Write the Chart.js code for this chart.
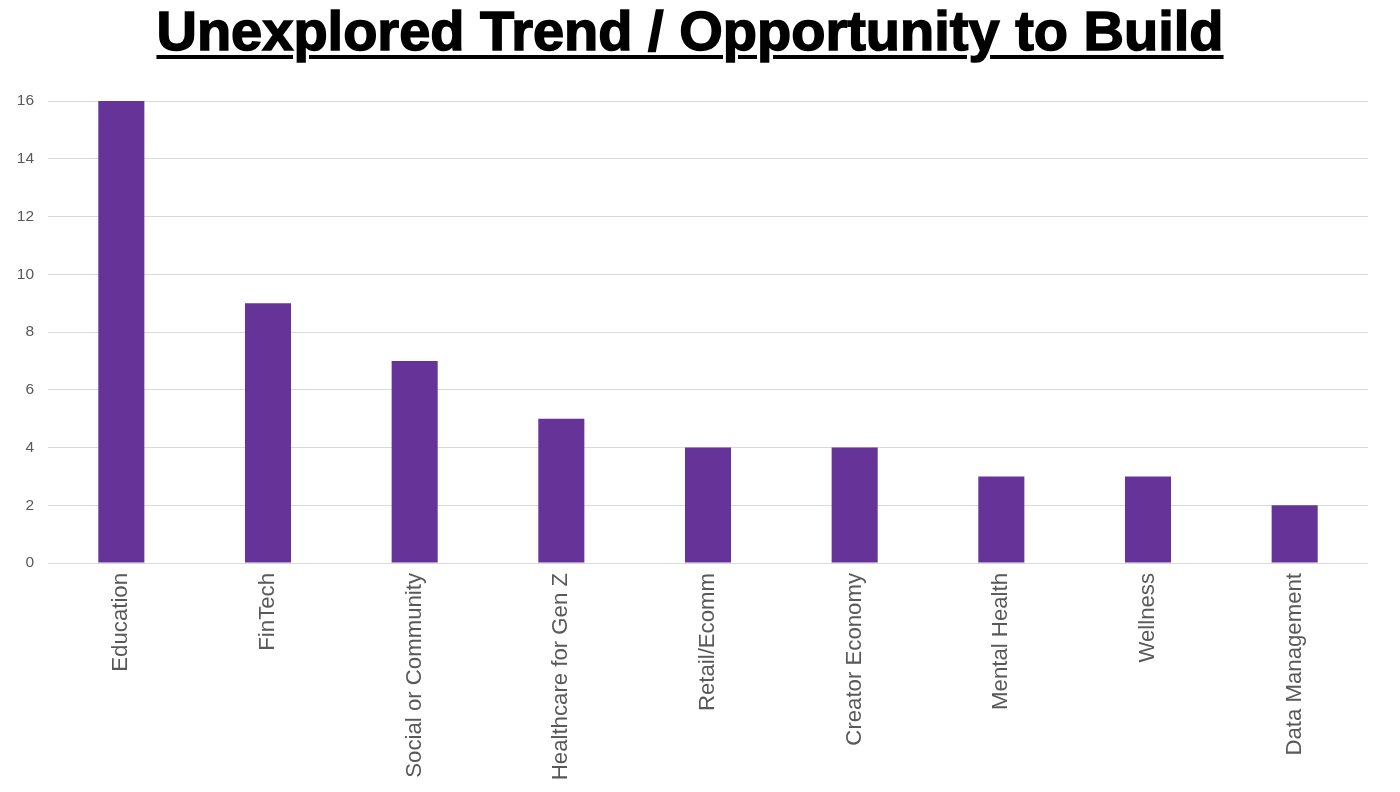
<!DOCTYPE html>
<html>
<head>
  <meta charset="utf-8">
  <script src="https://cdn.jsdelivr.net/npm/chart.js"></script>
  <style>
    html, body {
      margin: 0;
      padding: 0;
      background: white;
    }
    body {
      width: 1400px;
      height: 792px;
      position: relative;
      overflow: hidden;
    }
    h1 {
      position: absolute;
      top: -1px;
      left: 0;
      width: 1380px;
      margin: 0;
      text-align: center;
      font-family: 'Liberation Sans', Arial, sans-serif;
      font-weight: 700;
      font-size: 56px;
      line-height: 64px;
      text-decoration: underline;
      text-decoration-thickness: 4px;
      text-underline-offset: 5px;
      -webkit-text-stroke: 1.5px #000;
      color: #000;
    }
    #wrap {
      position: absolute;
      top: 0;
      left: 0;
      width: 1400px;
      height: 792px;
    }
  </style>
</head>
<body>

  <div id="wrap"><canvas id="chartTrends"></canvas></div>
  <h1>Unexplored Trend / Opportunity to Build</h1>

  <script>
    const categories = ['Education', 'FinTech', 'Social or Community', 'Healthcare for Gen Z',
      'Retail/Ecomm', 'Creator Economy', 'Mental Health', 'Wellness', 'Data Management'];
    const counts = [16, 9, 7, 5, 4, 4, 3, 3, 2];
    const yTicks = [0, 2, 4, 6, 8, 10, 12, 14, 16];

    const labelFont = "'Liberation Sans', Arial, sans-serif";

    new Chart(document.getElementById('chartTrends'), {
      type: 'bar',
      data: {
        labels: categories,
        datasets: [{
          label: 'Count',
          data: counts,
          backgroundColor: '#663399',
          categoryPercentage: 1,
          barPercentage: 0.314
        }]
      },
      options: {
        responsive: true,
        maintainAspectRatio: false,
        animation: false,
        layout: {
          padding: { top: 101, right: 32, left: 0, bottom: 0 }
        },
        plugins: {
          legend: { display: false },
          tooltip: { enabled: false }
        },
        scales: {
          x: {
            grid: { display: false },
            border: { display: false },
            ticks: {
              color: '#595959',
              font: { family: labelFont, size: 22.2 },
              maxRotation: 90,
              minRotation: 90,
              padding: 2
            },
            afterFit(scale) { scale.height = 792 - 563; }
          },
          y: {
            min: 0,
            max: 16,
            afterBuildTicks(scale) { scale.ticks = yTicks.map(v => ({ value: v })); },
            grid: { color: '#d9d9d9', lineWidth: 1, drawTicks: false },
            border: { display: false },
            ticks: {
              color: '#595959',
              font: { family: labelFont, size: 15.5 },
              padding: 14
            },
            afterFit(scale) { scale.width = 48; }
          }
        }
      }
    });
  </script>

</body>
</html>
